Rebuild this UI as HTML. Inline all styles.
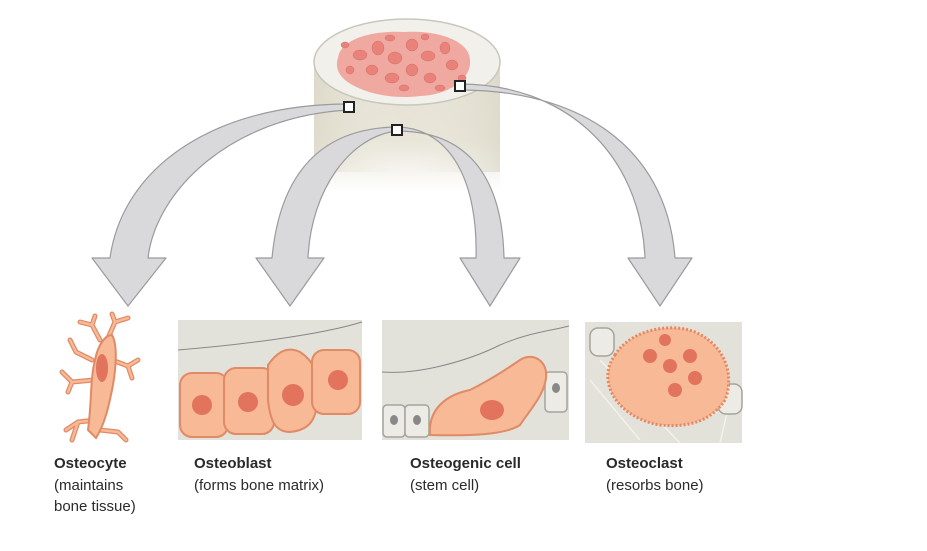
<!DOCTYPE html>
<html><head><meta charset="utf-8"><style>
html,body{margin:0;padding:0;background:#fff;}
svg{display:block;}
text{font-family:"Liberation Sans",Arial,sans-serif;font-size:15px;fill:#2a2a2a;}
.b{font-weight:bold;}
</style></head><body>
<svg width="927" height="551" viewBox="0 0 927 551" xmlns="http://www.w3.org/2000/svg">
<defs>
<linearGradient id="cyl" x1="0" y1="0" x2="0" y2="1">
<stop offset="0" stop-color="#e4e1d3"/><stop offset="0.6" stop-color="#e8e5d8"/><stop offset="1" stop-color="#ffffff"/>
</linearGradient>
<linearGradient id="cylh" x1="0" y1="0" x2="1" y2="0">
<stop offset="0" stop-color="#d8d5c4" stop-opacity="0.6"/><stop offset="0.5" stop-color="#f2f0e6" stop-opacity="0"/><stop offset="1" stop-color="#d8d5c4" stop-opacity="0.6"/>
</linearGradient>
</defs>
<rect x="314" y="62" width="186" height="130" fill="url(#cyl)"/>
<rect x="314" y="62" width="186" height="110" fill="url(#cylh)"/>
<ellipse cx="407" cy="62" rx="93" ry="43" fill="#f1f0ea" stroke="#c9c7bc" stroke-width="1.5"/>
<path d="M338,58 C340,40 370,30 405,32 C440,30 470,42 470,60 C472,78 450,95 420,96 C390,100 360,92 345,80 C336,72 336,64 338,58 Z" fill="#f0a9a0"/>
<g fill="#e9827a" stroke="#d07068" stroke-width="0.5">
<ellipse cx="360" cy="55" rx="7" ry="5"/><ellipse cx="378" cy="48" rx="6" ry="7"/><ellipse cx="395" cy="58" rx="7" ry="6"/>
<ellipse cx="412" cy="45" rx="6" ry="6"/><ellipse cx="428" cy="56" rx="7" ry="5"/><ellipse cx="445" cy="48" rx="5" ry="6"/>
<ellipse cx="452" cy="65" rx="6" ry="5"/><ellipse cx="372" cy="70" rx="6" ry="5"/><ellipse cx="392" cy="78" rx="7" ry="5"/>
<ellipse cx="412" cy="70" rx="6" ry="6"/><ellipse cx="430" cy="78" rx="6" ry="5"/><ellipse cx="350" cy="70" rx="4" ry="4"/>
<ellipse cx="404" cy="88" rx="5" ry="3"/><ellipse cx="440" cy="88" rx="5" ry="3"/><ellipse cx="462" cy="78" rx="4" ry="3"/>
<ellipse cx="345" cy="45" rx="4" ry="3"/><ellipse cx="390" cy="38" rx="5" ry="3"/><ellipse cx="425" cy="37" rx="4" ry="3"/>
</g>
<g fill="#d9d9dc" stroke="#9b9b9e" stroke-width="1.2" stroke-linejoin="round">
<path d="M349,104 C210,104 122,170 110,258 L92,258 L128,306 L166,258 L148,258 C156,190 232,116 349,110 Z"/>
<path d="M397,127 C322,128 280,172 272,258 L256,258 L290,306 L324,258 L308,258 C311,190 350,136 397,131 Z"/>
<path d="M397,127 C452,128 478,184 476,258 L460,258 L490,306 L520,258 L504,258 C502,170 462,131 397,131 Z"/>
<path d="M460,84 C562,84 640,150 645,258 L628,258 L660,306 L692,258 L675,258 C666,142 574,90 460,90 Z"/>
</g>
<g fill="#fff" stroke="#222" stroke-width="2">
<rect x="344" y="102" width="10" height="10"/><rect x="455" y="81" width="10" height="10"/><rect x="392" y="125" width="10" height="10"/>
</g>
<!-- osteocyte -->
<g fill="none" stroke-linecap="round" stroke-linejoin="round">
<path d="M100,340 L92,325 L80,322 M92,325 L95,316 M108,338 L115,322 L128,318 M115,322 L112,314 M112,360 L128,366 L138,360 M128,366 L132,378 M94,380 L72,382 L62,372 M72,382 L68,392 M96,420 L78,422 L66,430 M78,422 L72,440 M100,430 L118,432 L126,440 M92,360 L76,352 L70,340" stroke="#e08a66" stroke-width="5"/>
<path d="M100,340 L92,325 L80,322 M92,325 L95,316 M108,338 L115,322 L128,318 M115,322 L112,314 M112,360 L128,366 L138,360 M128,366 L132,378 M94,380 L72,382 L62,372 M72,382 L68,392 M96,420 L78,422 L66,430 M78,422 L72,440 M100,430 L118,432 L126,440 M92,360 L76,352 L70,340" stroke="#f7b996" stroke-width="2.5"/>
</g>
<path d="M88,430 C92,400 90,380 95,360 C98,345 105,335 112,335 C118,345 116,370 112,390 C108,410 104,425 96,438 Z" fill="#f7b996" stroke="#e08a66" stroke-width="2"/>
<ellipse cx="102" cy="368" rx="6" ry="14" fill="#e2735c"/>
<rect x="178" y="320" width="184" height="120" fill="#e2e1da"/>
<path d="M178,350 C240,345 320,335 362,322" fill="none" stroke="#888" stroke-width="1"/>
<g fill="#f7b996" stroke="#e08a66" stroke-width="2">
<rect x="180" y="373" width="48" height="64" rx="12"/>
<rect x="224" y="368" width="50" height="66" rx="12"/>
<path d="M268,365 C275,355 285,345 300,352 C312,360 318,370 318,390 C318,420 310,430 290,432 C275,432 270,420 268,400 Z"/>
<rect x="312" y="350" width="48" height="64" rx="12"/>
</g>
<g fill="#e2735c"><circle cx="202" cy="405" r="10"/><circle cx="248" cy="402" r="10"/><circle cx="293" cy="395" r="11"/><circle cx="338" cy="380" r="10"/></g>
<rect x="382" y="320" width="187" height="120" fill="#e2e1da"/>
<path d="M382,372 C420,375 470,360 500,345 C530,332 555,330 569,326" fill="none" stroke="#888" stroke-width="1"/>
<g fill="#ecebe5" stroke="#a5a49c" stroke-width="1.5">
<rect x="383" y="405" width="22" height="32" rx="4"/><rect x="405" y="405" width="24" height="32" rx="4"/><rect x="545" y="372" width="22" height="40" rx="4"/>
</g>
<g fill="#888"><ellipse cx="394" cy="420" rx="4" ry="5"/><ellipse cx="417" cy="420" rx="4" ry="5"/><ellipse cx="556" cy="388" rx="4" ry="5"/></g>
<path d="M430,435 C428,410 445,395 470,390 C490,380 505,370 520,360 C532,352 548,360 546,378 C544,395 530,410 520,425 C505,435 470,436 430,435 Z" fill="#f7b996" stroke="#e08a66" stroke-width="2"/>
<ellipse cx="492" cy="410" rx="12" ry="10" fill="#e2735c"/>
<rect x="585" y="322" width="157" height="121" fill="#e2e1da"/>
<g fill="none" stroke="#f2f1ec" stroke-width="1.5"><path d="M590,380 L640,440 M600,360 L680,443 M700,420 L742,400 M720,443 L730,400"/></g>
<rect x="590" y="328" width="24" height="28" rx="8" fill="#ecebe5" stroke="#a5a49c" stroke-width="1.5"/>
<rect x="718" y="384" width="24" height="30" rx="8" fill="#ecebe5" stroke="#a5a49c" stroke-width="1.5"/>
<path d="M615,355 C630,330 670,322 695,332 C725,345 735,375 725,400 C712,420 690,428 660,425 C630,420 610,400 608,380 C607,370 610,362 615,355 Z" fill="#f7b996" stroke="#e8865e" stroke-width="3" stroke-dasharray="2 2"/>
<g fill="#e2735c"><circle cx="650" cy="356" r="7"/><circle cx="670" cy="366" r="7"/><circle cx="690" cy="356" r="7"/><circle cx="695" cy="378" r="7"/><circle cx="675" cy="390" r="7"/><circle cx="665" cy="340" r="6"/></g>
<text x="54" y="468" class="b">Osteocyte</text>
<text x="54" y="490">(maintains</text>
<text x="54" y="511">bone tissue)</text>
<text x="194" y="468" class="b">Osteoblast</text>
<text x="194" y="490">(forms bone matrix)</text>
<text x="410" y="468" class="b">Osteogenic cell</text>
<text x="410" y="490">(stem cell)</text>
<text x="606" y="468" class="b">Osteoclast</text>
<text x="606" y="490">(resorbs bone)</text>
</svg>
</body></html>
